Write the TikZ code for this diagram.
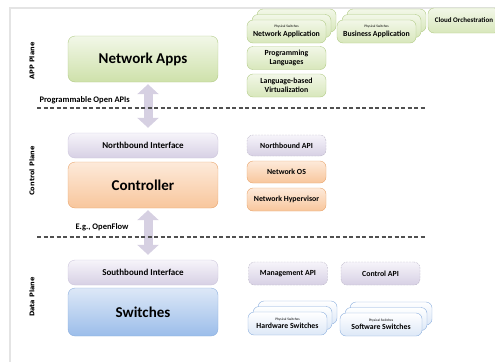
\documentclass[tikz,border=0pt]{standalone}
\usepackage{fontspec}
\setmainfont{Carlito}
\newfontfamily\planefont{DejaVu Sans}
\definecolor{framegray}{RGB}{228,228,228}
\definecolor{dashgray}{RGB}{80,80,80}
\definecolor{greentop}{RGB}{242,247,232}
\definecolor{greenbot}{RGB}{206,225,170}
\definecolor{greenline}{RGB}{178,203,135}
\definecolor{lavtop}{RGB}{246,244,250}
\definecolor{lavbot}{RGB}{215,208,228}
\definecolor{lavline}{RGB}{205,198,220}
\definecolor{orangetop}{RGB}{253,234,218}
\definecolor{orangebot}{RGB}{248,198,156}
\definecolor{orangeline}{RGB}{232,164,108}
\definecolor{bluetop}{RGB}{221,232,247}
\definecolor{bluebot}{RGB}{155,189,234}
\definecolor{blueline}{RGB}{140,175,222}
\definecolor{arrowlav}{RGB}{214,208,226}
\usetikzlibrary{arrows.meta,positioning}

\begin{document}
\begin{tikzpicture}[x=1pt, y=-1pt,
    layer/.style={draw, rounded corners=7pt, minimum width=150pt, inner sep=0pt, font=\bfseries},
    big/.style={layer, minimum height=46pt, font=\fontsize{15}{16}\selectfont\bfseries},
    thin/.style={layer, minimum height=25pt, draw=lavline, top color=lavtop, bottom color=lavbot, font=\fontsize{9}{10}\selectfont\bfseries},
    sbox/.style={draw, rounded corners=6pt, minimum width=79pt, minimum height=23pt, inner sep=1pt, align=center, font=\fontsize{7.8}{8.6}\selectfont\bfseries},
    gbox/.style={sbox, draw=greenline, top color=greentop, bottom color=greenbot!80},
    obox/.style={sbox, draw=orangeline, top color=orangetop, bottom color=orangebot},
    bbox/.style={sbox, draw=blueline, top color=white, bottom color=bluetop},
    abox/.style={sbox, dashed, dash pattern=on 2pt off 1pt, draw=lavline!80!gray, top color=lavtop, bottom color=lavbot},
    plane/.style={rotate=90, font=\planefont\fontsize{6.5}{7}\selectfont\bfseries},
    note/.style={anchor=west, font=\fontsize{8.5}{9}\selectfont\bfseries},
    updown/.style={arrowlav, line width=9pt, {Triangle[length=10pt,width=21pt]}-{Triangle[length=10pt,width=21pt]}},
    sep/.style={dashgray, line width=1.2pt, dash pattern=on 4pt off 2.5pt}
]
    \clip (0,0) rectangle (495,362);
    \useasboundingbox (0,0) rectangle (495,362);

    % page frame
    \draw[framegray, line width=2.5pt] (495,8) -- (10,8) -- (10,362);

    % plane labels
    \node[plane] (appplane) at (32,61) {APP Plane};
    \node[plane] (ctrlplane) at (32,171) {Control Plane};
    \node[plane] (dataplane) at (32,297) {Data Plane};

    % main stack
    \node[big, draw=greenline, top color=greentop, bottom color=greenbot] (apps) at (143,59) {Network Apps};
    \node[thin] (nbi) at (143,145.5) {Northbound Interface};
    \node[big, draw=orangeline, top color=orangetop, bottom color=orangebot] (ctrl) at (143,185) {Controller};
    \node[thin] (sbi) at (143,272.5) {Southbound Interface};
    \node[big, minimum height=48pt, draw=blueline, top color=bluetop, bottom color=bluebot] (sw) at (143,312) {Switches};

    \draw[updown] ([xshift=5pt,yshift=-2pt]apps.south) -- ([xshift=5pt,yshift=5pt]nbi.north);
    \draw[updown] ([xshift=5pt,yshift=-2pt]ctrl.south) -- ([xshift=5pt,yshift=5pt]sbi.north);

    % separators
    \node[note] (openapi) at (36,100) {Programmable Open APIs};
    \node[note] (openflow) at (72,227) {E.g., OpenFlow};
    \coordinate (s1a) at (37,108);
    \coordinate (s1b) at (425,108);
    \coordinate (s2a) at (37,237);
    \coordinate (s2b) at (425,237);
    \draw[sep] (s1a) -- (s1b);
    \draw[sep] (s2a) -- (s2b);

    % application layer
    \foreach \i in {2,1} {
        \node[gbox] at (286.5+5*\i,31.5-5.5*\i) {};
        \node[gbox] at (376.5+5*\i,31.5-5.5*\i) {};
    }
    \node[gbox] (netapp) at (286.5,31.5) {{\normalfont\fontsize{3.5}{4}\selectfont Physical Switches}\\Network Application};
    \node[gbox] (bizapp) at (376.5,31.5) {{\normalfont\fontsize{3.5}{4}\selectfont Physical Switches}\\Business Application};
    \node[gbox, minimum width=72pt, minimum height=25pt, font=\fontsize{7}{8}\selectfont\bfseries] (cloud) at (464,20.5) {Cloud Orchestration};
    \node[gbox] (proglang) at (286.5,58) {Programming\\Languages};
    \node[gbox] (langvirt) at (286.5,85.5) {Language-based\\Virtualization};

    % control layer
    \node[abox, minimum height=21pt] (nbapi) at (286.5,145.5) {Northbound API};
    \node[obox, minimum height=22pt] (netos) at (286.5,172) {Network OS};
    \node[obox] (hyper) at (286.5,199.5) {Network Hypervisor};

    % data layer
    \node[abox] (mgmtapi) at (288,273.5) {Management API};
    \node[abox] (ctrlapi) at (380.5,273.5) {Control API};
    \foreach \i in {2,1} {
        \node[bbox] at (287.5+5*\i,323.5-5.5*\i) {};
        \node[bbox, minimum width=82pt] at (381+5*\i,324.5-5.5*\i) {};
    }
    \node[bbox] (hwsw) at (287.5,323.5) {{\normalfont\fontsize{3.5}{4}\selectfont Physical Switches}\\Hardware Switches};
    \node[bbox, minimum width=82pt] (softsw) at (381,324.5) {{\normalfont\fontsize{3.5}{4}\selectfont Physical Switches}\\Software Switches};
\end{tikzpicture}
\end{document}
